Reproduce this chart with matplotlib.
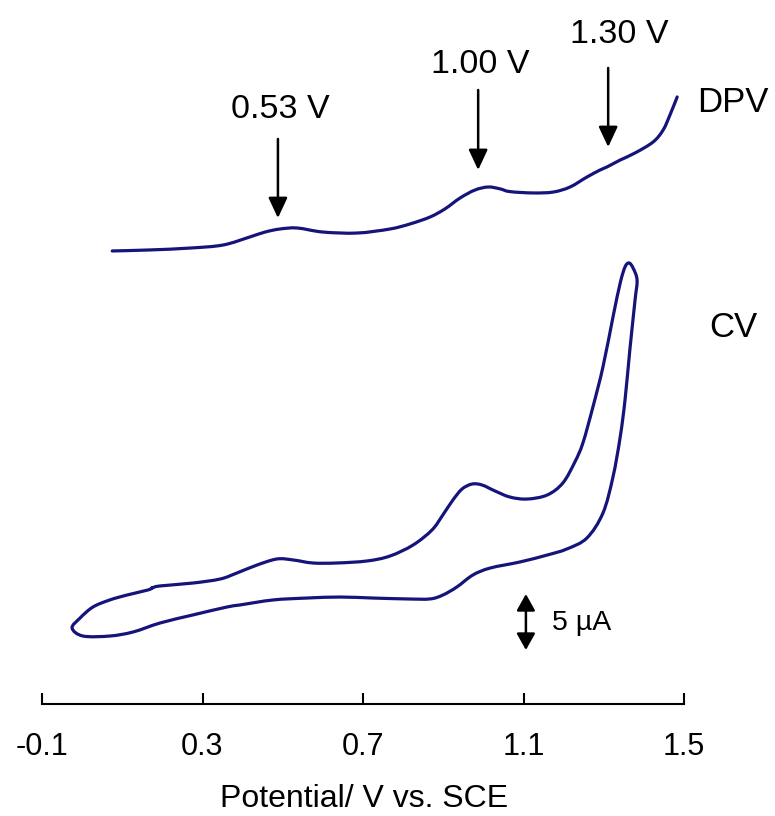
import matplotlib.pyplot as plt
from matplotlib.path import Path
from matplotlib.patches import PathPatch

plt.rcParams['font.family'] = ['Liberation Sans', 'DejaVu Sans']

# DPV trace (potential in V, current in uA, offset above the CV)
dpv_v = [0.075, 0.169, 0.269, 0.351, 0.418, 0.456, 0.493, 0.536, 0.600, 0.685,
         0.767, 0.817, 0.867, 0.904, 0.942, 0.979, 1.012, 1.041, 1.066, 1.124,
         1.174, 1.216, 1.258, 1.291, 1.308, 1.341, 1.378, 1.423, 1.448, 1.465, 1.483]
dpv_i = [40.45, 40.54, 40.71, 40.98, 41.70, 42.14, 42.41, 42.50, 42.14, 42.05,
         42.41, 42.86, 43.48, 44.20, 45.18, 45.89, 46.16, 46.00, 45.75, 45.63,
         45.71, 46.16, 47.05, 47.68, 47.95, 48.57, 49.20, 50.18, 51.25, 52.59, 54.20]

# CV loop: forward scan, reverse scan, back to start
cv_v = [0.174, 0.194, 0.276, 0.344, 0.386, 0.436, 0.486, 0.526, 0.575, 0.635,
        0.710, 0.767, 0.825, 0.872, 0.899, 0.924, 0.947, 0.972, 0.997, 1.029,
        1.066, 1.109, 1.159, 1.198, 1.228, 1.248, 1.273, 1.298, 1.323, 1.341,
        1.353, 1.363, 1.373, 1.383,
        1.378, 1.365, 1.353, 1.341, 1.323, 1.298, 1.258, 1.208, 1.159, 1.091,
        1.017, 0.974, 0.934, 0.899, 0.867, 0.810, 0.725, 0.643, 0.560, 0.476,
        0.393, 0.361, 0.276, 0.194, 0.127, 0.069, 0.002, -0.025,
        -0.005, 0.027, 0.069, 0.112, 0.164, 0.174]
cv_i = [10.36, 10.54, 10.80, 11.16, 11.70, 12.41, 12.95, 12.86, 12.59, 12.59,
        12.77, 13.21, 14.20, 15.54, 16.88, 18.21, 19.20, 19.64, 19.55, 19.02,
        18.48, 18.30, 18.66, 19.73, 21.61, 23.30, 26.52, 30.09, 34.55, 37.59,
        39.02, 39.38, 38.93, 37.86,
        36.07, 31.61, 27.14, 23.84, 20.27, 17.05, 14.82, 13.84, 13.30, 12.68,
        12.14, 11.52, 10.45, 9.73, 9.38, 9.38, 9.46, 9.55, 9.46, 9.29,
        8.84, 8.66, 7.95, 7.23, 6.43, 6.07, 6.07, 6.79,
        7.68, 8.66, 9.29, 9.73, 10.18, 10.36]

x_ticks = [-0.1, 0.3, 0.7, 1.1, 1.5]

# peak labels: text, arrow x, arrow tail, arrow tip, text x, text y
peaks = [('0.53 V', 0.488, 50.45, 43.39, 0.493, 52.3),
         ('1.00 V', 0.987, 54.82, 47.68, 0.992, 56.3),
         ('1.30 V', 1.311, 56.79, 49.73, 1.338, 59.0)]

line_c = '#14147a'


def smooth_path(xs, ys):
    # Catmull-Rom through the points, written as cubic Bezier segments
    pts = list(zip(xs, ys))
    ext = [pts[0]] + pts + [pts[-1]]
    verts = [pts[0]]
    codes = [Path.MOVETO]
    for k in range(1, len(ext) - 2):
        p0, p1, p2, p3 = ext[k - 1], ext[k], ext[k + 1], ext[k + 2]
        c1 = (p1[0] + (p2[0] - p0[0]) / 6, p1[1] + (p2[1] - p0[1]) / 6)
        c2 = (p2[0] - (p3[0] - p1[0]) / 6, p2[1] - (p3[1] - p1[1]) / 6)
        verts += [c1, c2, p2]
        codes += [Path.CURVE4] * 3
    return Path(verts, codes)


fig = plt.figure(figsize=(7.75, 8.16), dpi=100)
ax = fig.add_axes([42 / 775, 112 / 816, 642 / 775, 704 / 816])
ax.set_xlim(-0.1, 1.5)
ax.set_ylim(0, 704 / 11.2)

for xs, ys in [(dpv_v, dpv_i), (cv_v, cv_i)]:
    ax.add_patch(PathPatch(smooth_path(xs, ys), fill=False, edgecolor=line_c,
                           lw=2.3, joinstyle='round', capstyle='round',
                           clip_on=False))

for txt, xa, y0, y1, xt, yt in peaks:
    ax.annotate('', xy=(xa, y1), xytext=(xa, y0),
                arrowprops=dict(arrowstyle='-|>,head_length=0.62,head_width=0.29',
                                mutation_scale=20, lw=1.8, color='black',
                                shrinkA=0, shrinkB=0))
    ax.text(xt, yt, txt, ha='center', va='baseline', fontsize=24.5)

ax.text(1.622, 52.9, 'DPV', ha='center', va='baseline', fontsize=25)
ax.text(1.622, 32.8, 'CV', ha='center', va='baseline', fontsize=25)

# 5 uA scale bar
ax.annotate('', xy=(1.106, 4.82), xytext=(1.106, 9.82),
            arrowprops=dict(arrowstyle='<|-|>,head_length=0.5,head_width=0.28',
                            mutation_scale=20, lw=1.8, color='black',
                            shrinkA=0, shrinkB=0))
ax.text(1.171, 6.6, '5 µA', ha='left', va='baseline', fontsize=20.5)

for s in ['left', 'right', 'top']:
    ax.spines[s].set_visible(False)
ax.spines['bottom'].set_linewidth(1.5)
ax.set_xticks(x_ticks)
ax.set_xticklabels([str(t) for t in x_ticks])
ax.set_yticks([])
ax.tick_params(axis='x', direction='in', length=8, width=1.5, pad=20,
               labelsize=22)

fig.text(364 / 775, 9 / 816, 'Potential/ V vs. SCE', ha='center',
         va='baseline', fontsize=23)

fig.savefig('out.png', dpi=100)
